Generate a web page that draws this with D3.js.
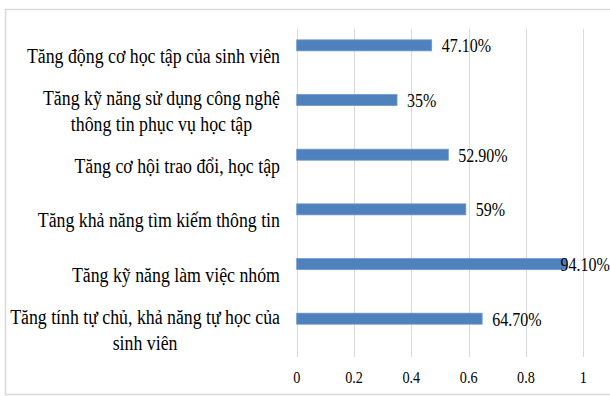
<!DOCTYPE html>
<html>
<head>
<meta charset="utf-8">
<script src="https://cdn.jsdelivr.net/npm/d3@7"></script>
<style>
  body { margin: 0; background: #fff; }
  text { font-family: "Liberation Serif", "Times New Roman", serif; fill: #000; }
</style>
</head>
<body>
<script>
// DATA
const categories = [
  'Tăng động cơ học tập của sinh viên',
  'Tăng kỹ năng sử dụng công nghệ thông tin phục vụ học tập',
  'Tăng cơ hội trao đổi, học tập',
  'Tăng khả năng tìm kiếm thông tin',
  'Tăng kỹ năng làm việc nhóm',
  'Tăng tính tự chủ, khả năng tự học của sinh viên'
]
const values = [0.471, 0.35, 0.529, 0.59, 0.941, 0.647]
const valueLabels = ['47.10%', '35%', '52.90%', '59%', '94.10%', '64.70%']
const tickValues = [0, 0.2, 0.4, 0.6, 0.8, 1]
const tickLabels = ['0', '0.2', '0.4', '0.6', '0.8', '1']
// Excel cluster slots: only the first one carries data
const seriesSlots = [0, 1, 2]

//Declare VARIABLES
const w = 610
const h = 396
const SX = 0.89   // text in the picture is squeezed horizontally
const labelWrap = 276
const labelRight = 280

const svg = d3.select('body')
  .append('svg')
  .attr('width', w)
  .attr('height', h)

// chart frame (right edge runs off the picture)
svg.append('rect')
  .attr('x', 5.5)
  .attr('y', 9.5)
  .attr('width', 640)
  .attr('height', 385)
  .attr('fill', 'none')
  .attr('stroke', '#d9d9d9')
  .attr('stroke-width', 1.5)

// Scales
const x = d3.scaleLinear().domain([0, 1]).range([296.7, 583.3])
const y = d3.scaleBand().domain(categories).range([29, 357])
const slot = d3.scaleBand().domain(seriesSlots).range([0, y.bandwidth()]).paddingOuter(0.99)

// gridlines
svg.append('g')
  .selectAll('line')
  .data(tickValues)
  .enter()
  .append('line')
  .attr('x1', d => Math.round(x(d)) + 0.5)
  .attr('x2', d => Math.round(x(d)) + 0.5)
  .attr('y1', 29)
  .attr('y2', 357)
  .attr('stroke', '#d9d9d9')
  .attr('stroke-width', 1)

// tick labels
svg.append('g')
  .selectAll('text')
  .data(tickValues)
  .enter()
  .append('text')
  .attr('transform', d => `translate(${x(d)},383) scale(${SX},1)`)
  .attr('text-anchor', 'middle')
  .style('font-size', '16px')
  .text((d, i) => tickLabels[i])

// bars
svg.append('g')
  .selectAll('rect')
  .data(values)
  .enter()
  .append('rect')
  .attr('x', x(0))
  .attr('y', (d, i) => y(categories[i]) + slot(seriesSlots[0]))
  .attr('width', d => x(d) - x(0))
  .attr('height', slot.bandwidth())
  .attr('fill', '#4f81bd')
  .attr('stroke', '#6b97cc')
  .attr('stroke-width', 0.8)

// value labels, pushed left when they would leave the chart
const valueText = svg.append('g')
  .selectAll('text')
  .data(values)
  .enter()
  .append('text')
  .style('font-size', '18px')
  .text((d, i) => valueLabels[i])

valueText.each(function (d, i) {
  const t = d3.select(this)
  const tw = this.getComputedTextLength() * SX
  const cy = y(categories[i]) + slot(seriesSlots[0]) + slot.bandwidth() / 2
  let lx = x(d) + 10
  if (lx + tw > w) lx = w - tw
  t.attr('transform', `translate(${lx},${cy + 7}) scale(${SX},1)`)
})

// category labels: wrapped, lines centred inside a right-aligned block
function wrap(text, width) {
  text.each(function (d) {
    const text = d3.select(this)
    const words = text.text().split(/\s+/).reverse()
    let word
    let line = []
    let tspan = text.text(null).append('tspan').attr('x', 0)
    while (word = words.pop()) {
      line.push(word)
      tspan.text(line.join(' '))
      if (tspan.node().getComputedTextLength() * SX > width && line.length > 1) {
        line.pop()
        tspan.text(line.join(' '))
        line = [word]
        tspan = text.append('tspan').attr('x', 0).text(word)
      }
    }
    const spans = text.selectAll('tspan')
    const n = spans.size()
    let maxW = 0
    spans.each(function () { maxW = Math.max(maxW, this.getComputedTextLength() * SX) })
    spans.attr('y', (d, i) => (i - (n - 1) / 2) * 26)
    text.attr('text-anchor', 'middle')
      .attr('transform', `translate(${labelRight - maxW / 2},${y(d) + y.bandwidth() / 2 + 7}) scale(${SX},1)`)
  })
}

svg.append('g')
  .selectAll('text')
  .data(categories)
  .enter()
  .append('text')
  .style('font-size', '20px')
  .text(d => d)
  .call(wrap, labelWrap)
</script>
</body>
</html>
